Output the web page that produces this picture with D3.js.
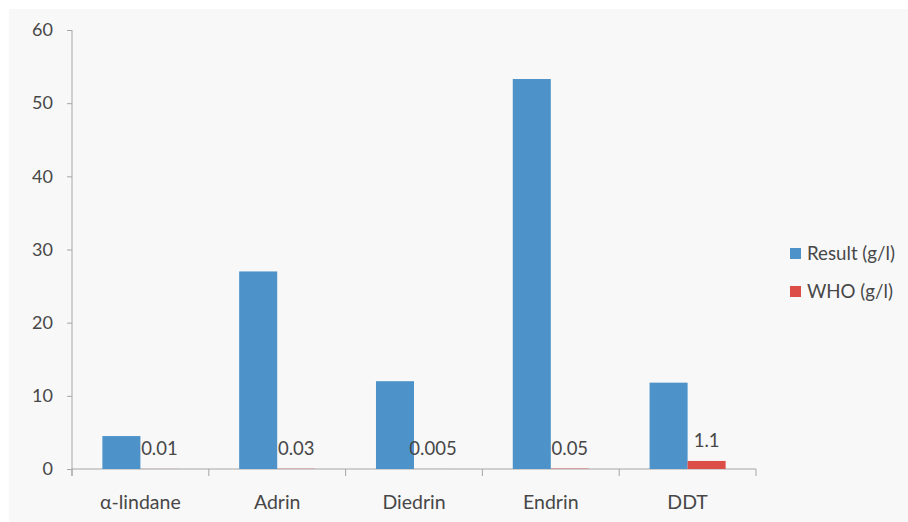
<!DOCTYPE html>
<html><head><meta charset="utf-8">
<script src="https://cdn.jsdelivr.net/npm/d3@7"></script>
<style>body{margin:0;background:#fff;}svg{display:block;}</style>
</head><body>
<svg id="c" width="908" height="522"></svg>
<script>
const categories = ["α-lindane","Adrin","Diedrin","Endrin","DDT"];
const seriesNames = ["Result (g/l)","WHO (g/l)"];
const resultValues = [4.5, 27, 12, 53.3, 11.8];
const whoValues = [0.01, 0.03, 0.005, 0.05, 1.1];
const whoLabels = ["0.01","0.03","0.005","0.05","1.1"];
const yTicks = [0,10,20,30,40,50,60];
const colors = ["#4d92c9","#dd4d47"];

const svg = d3.select("#c");
const font = "Lato, 'Open Sans', sans-serif";
const textColor = "#474747";
const axisColor = "#a6a6a6";

svg.append("rect").attr("x",9).attr("y",9).attr("width",899).attr("height",513).attr("fill","#f8f8f8");

const x0 = d3.scaleBand().domain(categories).range([72,756]).padding(0);
const step = x0.step();
const x1 = d3.scaleBand().domain(seriesNames).range([step*0.222, step*0.778]).padding(0);
const y = d3.scaleLinear().domain([0,60]).range([469,30]);

// y axis
const yAxis = svg.append("g").attr("transform","translate(72,0)")
  .call(d3.axisLeft(y).tickValues(yTicks).tickSize(5).tickPadding(14).tickFormat(d3.format("d")));
yAxis.select(".domain").attr("stroke",axisColor).attr("d","M0,30V476");
yAxis.selectAll(".tick line").attr("stroke",axisColor);
yAxis.selectAll(".tick text").attr("fill",textColor).style("font-family",font).style("font-size","18px");

// x axis line and boundary ticks
const xAxis = svg.append("g").attr("transform","translate(0,469)");
xAxis.append("line").attr("x1",72).attr("x2",756).attr("y1",0).attr("y2",0).attr("stroke",axisColor);
const bounds = categories.map(c=>x0(c)).concat([x0(categories[categories.length-1])+step]);
xAxis.selectAll("line.bt").data(bounds).enter().append("line").attr("class","bt")
  .attr("x1",d=>d).attr("x2",d=>d).attr("y1",0).attr("y2",7).attr("stroke",axisColor);
xAxis.selectAll("text").data(categories).enter().append("text")
  .attr("x",d=>x0(d)+step/2).attr("y",39.5).attr("text-anchor","middle")
  .attr("fill",textColor).style("font-family",font).style("font-size","19.5px").text(d=>d);

// bars
const data = categories.map((c,i)=>({cat:c, vals:[resultValues[i], whoValues[i]]}));
const g = svg.append("g");
data.forEach(d=>{
  d.vals.forEach((v,j)=>{
    g.append("rect")
      .attr("x",x0(d.cat)+x1(seriesNames[j]))
      .attr("y",y(v))
      .attr("width",x1.bandwidth())
      .attr("height",y(0)-y(v))
      .attr("fill",colors[j]);
  });
});
// WHO labels
g.selectAll("text.lab").data(categories).enter().append("text").attr("class","lab")
  .attr("x",(d)=>x0(d)+x1(seriesNames[1])+x1.bandwidth()/2)
  .attr("y",(d,i)=>y(whoValues[i])-14)
  .attr("text-anchor","middle").attr("fill",textColor)
  .style("font-family",font).style("font-size","18.5px")
  .text((d,i)=>whoLabels[i]);

// legend
const lg = svg.append("g");
seriesNames.forEach((s,i)=>{
  lg.append("rect").attr("x",790).attr("y",248+i*38).attr("width",11).attr("height",11).attr("fill",colors[i]);
  lg.append("text").attr("x",807).attr("y",253.5+i*38).attr("dy","0.35em")
    .attr("fill",textColor).style("font-family",font).style("font-size","18.7px").text(s);
});
</script>
</body></html>
